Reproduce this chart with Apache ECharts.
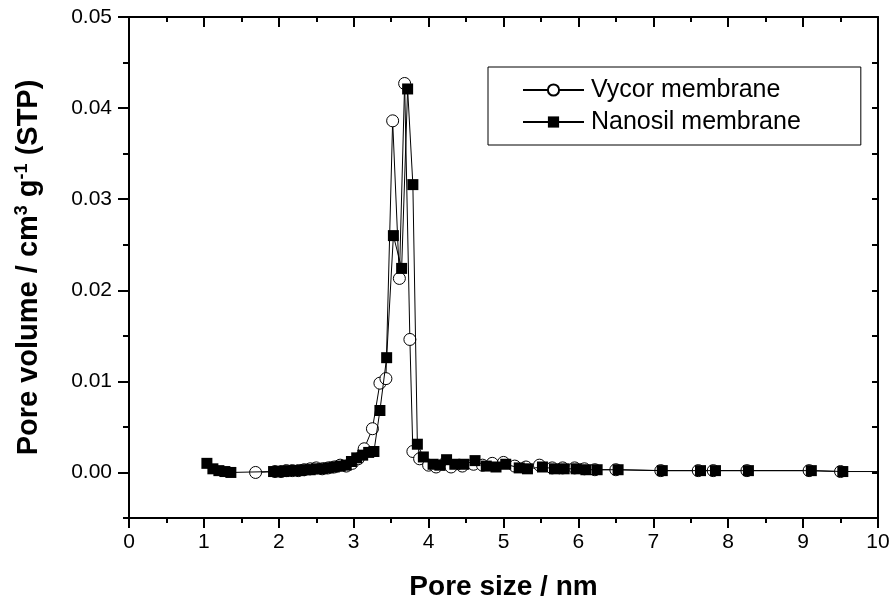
<!DOCTYPE html>
<html><head><meta charset="utf-8">
<script src="https://cdn.jsdelivr.net/npm/echarts@6/dist/echarts.min.js"></script>
<style>html,body{margin:0;padding:0;background:#fff}#c{width:891px;height:602px}</style>
</head><body><div id="c"></div>
<script>
const seriesNames = ['Vycor membrane', 'Nanosil membrane'];
const vycorX = [1.69,1.95,2.03,2.10,2.18,2.26,2.34,2.42,2.50,2.58,2.66,2.74,2.82,2.90,2.98,3.06,3.14,3.25,3.35,3.43,3.52,3.61,3.68,3.75,3.79,3.88,4.00,4.10,4.20,4.30,4.45,4.60,4.72,4.85,5.00,5.15,5.30,5.48,5.65,5.79,5.95,6.08,6.22,6.50,7.10,7.60,7.80,8.25,9.08,9.50];
const vycorY = [0.0000,0.0001,0.0001,0.0002,0.0002,0.0002,0.0003,0.0004,0.0005,0.0004,0.0005,0.0006,0.0008,0.0007,0.0010,0.0015,0.0026,0.0048,0.0098,0.0103,0.0386,0.0213,0.0427,0.0146,0.0023,0.0015,0.0008,0.0006,0.0009,0.0006,0.0007,0.0009,0.0008,0.0010,0.0011,0.0007,0.0006,0.0008,0.0005,0.0005,0.0005,0.0004,0.0003,0.0003,0.0002,0.0002,0.0002,0.0002,0.0002,0.0001];
const nanoX = [1.04,1.12,1.20,1.28,1.36,1.93,2.00,2.07,2.14,2.21,2.28,2.35,2.42,2.50,2.58,2.66,2.74,2.82,2.90,2.97,3.04,3.12,3.20,3.27,3.35,3.44,3.53,3.64,3.72,3.79,3.85,3.93,4.06,4.15,4.24,4.35,4.47,4.62,4.77,4.90,5.03,5.21,5.32,5.52,5.68,5.81,5.97,6.10,6.25,6.53,7.12,7.63,7.83,8.27,9.11,9.53,10.30];
const nanoY = [0.0010,0.0004,0.0002,0.0001,0.0000,0.0001,0.0001,0.0001,0.0002,0.0002,0.0002,0.0003,0.0003,0.0004,0.0004,0.0005,0.0006,0.0007,0.0008,0.0012,0.0016,0.0019,0.0022,0.0023,0.0068,0.0126,0.0260,0.0224,0.0421,0.0316,0.0031,0.0017,0.0009,0.0008,0.0014,0.0009,0.0009,0.0013,0.0007,0.0006,0.0009,0.0005,0.0004,0.0006,0.0004,0.0004,0.0004,0.0003,0.0003,0.0003,0.0002,0.0002,0.0002,0.0002,0.0002,0.0001,0.0001];
const yTickValues = [0.00,0.01,0.02,0.03,0.04,0.05];
const xTickLabels = ['0','1','2','3','4','5','6','7','8','9','10'];

const FONT = 'Liberation Sans, Arial, sans-serif';
const zip = (xs, ys) => xs.map((x, i) => [x, ys[i]]);
const grid = {left: 129, right: 13, top: 17, bottom: 84, outerBoundsMode: 'none', containLabel: false};
const lineStyle = {color: '#000', width: 1};

const option = {
  animation: false,
  backgroundColor: '#fff',
  grid: grid,
  legend: {
    left: 488, top: 67, orient: 'vertical',
    padding: [10, 60, 10, 34],
    borderColor: '#000', borderWidth: 1,
    itemWidth: 61, itemHeight: 14, itemGap: 6,
    textStyle: {fontFamily: FONT, fontSize: 25, color: '#000', lineHeight: 26, padding: [0,0,0,2]},
    data: seriesNames
  },
  xAxis: [{
    type: 'value', min: 0, max: 10, interval: 1, position: 'bottom',
    axisLine: {show: true, onZero: false, lineStyle: {color: '#000', width: 2}},
    axisTick: {show: true, inside: false, length: 10, lineStyle: {color: '#000', width: 2}},
    minorTick: {show: true, splitNumber: 2, length: 5, lineStyle: {color: '#000', width: 2}},
    splitLine: {show: false},
    axisLabel: {fontFamily: FONT, fontSize: 21, color: '#000', margin: 14,
      formatter: v => xTickLabels[Math.round(v)]},
    name: 'Pore size / nm', nameLocation: 'middle', nameGap: 55,
    nameTextStyle: {fontFamily: FONT, fontSize: 28, fontWeight: 'bold', color: '#000'}
  }, {
    type: 'value', min: 0, max: 10, interval: 1, position: 'top',
    axisLine: {show: true, onZero: false, lineStyle: {color: '#000', width: 2}},
    axisTick: {show: true, inside: true, length: 10, lineStyle: {color: '#000', width: 2}},
    minorTick: {show: true, splitNumber: 2, length: 5, lineStyle: {color: '#000', width: 2}},
    splitLine: {show: false}, axisLabel: {show: false}
  }],
  yAxis: [{
    type: 'value', min: -0.005, max: 0.05, position: 'left',
    axisLine: {show: true, onZero: false, lineStyle: {color: '#000', width: 2}},
    axisTick: {show: true, inside: false, length: 11, customValues: yTickValues, lineStyle: {color: '#000', width: 2}},
    splitLine: {show: false},
    axisLabel: {fontFamily: FONT, fontSize: 21, color: '#000', margin: 17, customValues: yTickValues,
      formatter: v => v.toFixed(2)},
    name: 'Pore volume / cm{sup|3} g{sup|-1} (STP)', nameLocation: 'middle', nameRotate: 90, nameGap: 85,
    nameTextStyle: {fontFamily: FONT, fontSize: 29, fontWeight: 'bold', color: '#000',
      rich: {sup: {fontFamily: FONT, fontSize: 18, fontWeight: 'bold', color: '#000', padding: [0,0,13,0]}}}
  }, {
    type: 'value', min: -0.005, max: 0.05, interval: 0.005, position: 'left',
    axisLine: {show: false},
    axisTick: {show: true, inside: false, length: 6, lineStyle: {color: '#000', width: 2}},
    splitLine: {show: false}, axisLabel: {show: false}
  }, {
    type: 'value', min: -0.005, max: 0.05, interval: 0.005, position: 'right',
    axisLine: {show: true, onZero: false, lineStyle: {color: '#000', width: 2}},
    axisTick: {show: true, inside: true, length: 6, lineStyle: {color: '#000', width: 2}},
    splitLine: {show: false}, axisLabel: {show: false}
  }, {
    type: 'value', min: -0.005, max: 0.05, position: 'right',
    axisLine: {show: false},
    axisTick: {show: true, inside: true, length: 11, customValues: yTickValues, lineStyle: {color: '#000', width: 2}},
    splitLine: {show: false}, axisLabel: {show: false, customValues: yTickValues}
  }],
  series: [{
    name: seriesNames[0], type: 'line', data: zip(vycorX, vycorY),
    symbol: 'circle', symbolSize: 12, showAllSymbol: true, clip: true,
    lineStyle: lineStyle,
    itemStyle: {color: '#fff', borderColor: '#000', borderWidth: 1},
    z: 2
  }, {
    name: seriesNames[1], type: 'line', data: zip(nanoX, nanoY),
    symbol: 'rect', symbolSize: 11, showAllSymbol: true, clip: true,
    lineStyle: lineStyle,
    itemStyle: {color: '#000', borderColor: '#000', borderWidth: 0},
    z: 3
  }]
};
const chart = echarts.init(document.getElementById('c'), null, {renderer: 'canvas'});
chart.setOption(option);
</script></body></html>
